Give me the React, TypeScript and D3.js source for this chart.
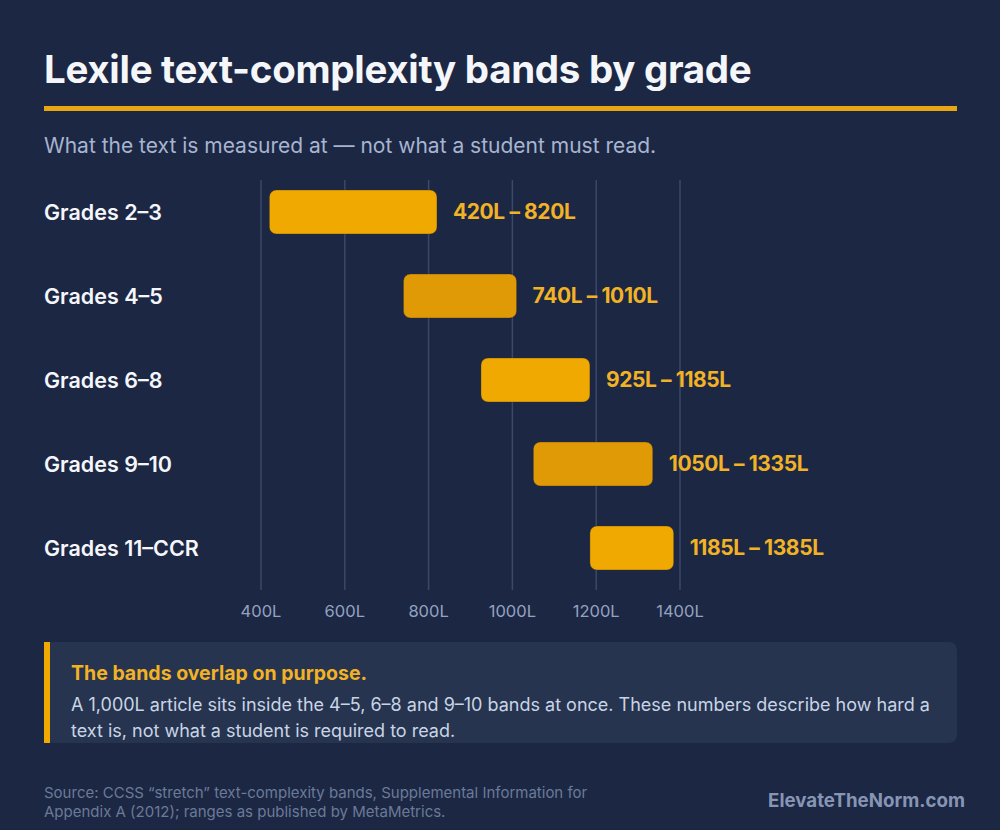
import React from "react";
import * as d3 from "d3";

const grades = ["Grades 2–3", "Grades 4–5", "Grades 6–8", "Grades 9–10", "Grades 11–CCR"];
const lowValues = [420, 740, 925, 1050, 1185];
const highValues = [820, 1010, 1185, 1335, 1385];
const ticks = [400, 600, 800, 1000, 1200, 1400];

const W = 1000;
const H = 830;
const FONT = "Inter, 'Noto Sans', sans-serif";

const BG = "#1c2744";
const GOLD = "#f0a900";
const GOLD_DARK = "#e09a05";
const LABEL_GOLD = "#f2b225";

const App: React.FC = () => {
  const x = d3.scaleLinear().domain([400, 1400]).range([261, 680]);
  const y = d3.scaleBand<string>().domain(grades).range([170, 590]).paddingInner(0.476).paddingOuter(0.238);
  const bh = y.bandwidth();

  return (
    <div style={{ position: "absolute", left: 0, top: 0 }}>
      <svg width={W} height={H} viewBox={`0 0 ${W} ${H}`} style={{ display: "block", fontFamily: FONT }}>
        <rect width={W} height={H} fill={BG} />

        {/* header */}
        <text x={44} y={83} fill="#f4f6fa" fontSize={38.5} fontWeight={700} letterSpacing={-0.3}>
          Lexile text-complexity bands by grade
        </text>
        <rect x={44} y={106} width={913} height={5} fill="#e8a612" />
        <text x={44} y={153} fill="#a7b5d0" fontSize={21}>
          What the text is measured at — not what a student must read.
        </text>

        {/* grid */}
        {ticks.map(t => (
          <g key={t}>
            <line x1={x(t)} x2={x(t)} y1={180} y2={590} stroke="#3b4868" strokeWidth={1.5} />
            <text x={x(t)} y={617} fill="#94a2c0" fontSize={16.5} textAnchor="middle">
              {t}L
            </text>
          </g>
        ))}

        {/* bars */}
        {grades.map((g, i) => {
          const yy = y(g) ?? 0;
          const x0 = x(lowValues[i]);
          const x1 = x(highValues[i]);
          return (
            <g key={g}>
              <text x={44} y={yy + bh / 2} dy="0.35em" fill="#f4f6fa" fontSize={21.5} fontWeight={600}>
                {g}
              </text>
              <rect
                x={x0}
                y={yy}
                width={x1 - x0}
                height={bh}
                rx={7}
                fill={i % 2 === 0 ? GOLD : GOLD_DARK}
                stroke="#2a2a2a"
                strokeOpacity={0.35}
                strokeWidth={1}
              />
              <text x={x1 + 16} y={yy + bh / 2} dy="0.35em" fill={LABEL_GOLD} fontSize={21} fontWeight={700} letterSpacing={-0.4}>
                {lowValues[i]}L – {highValues[i]}L
              </text>
            </g>
          );
        })}

        {/* callout */}
        <rect x={44} y={642} width={913} height={101} rx={8} fill="#26344f" />
        <rect x={44} y={642} width={6} height={101} fill={GOLD} />
        <text x={71} y={680} fill={LABEL_GOLD} fontSize={19.5} fontWeight={700}>
          The bands overlap on purpose.
        </text>
        <text x={71} y={711} fill="#c9d4e6" fontSize={18}>
          A 1,000L article sits inside the 4–5, 6–8 and 9–10 bands at once. These numbers describe how hard a
        </text>
        <text x={71} y={737} fill="#c9d4e6" fontSize={18}>
          text is, not what a student is required to read.
        </text>

        {/* footer */}
        <text x={44} y={798} fill="#6b7a98" fontSize={15}>
          Source: CCSS “stretch” text-complexity bands, Supplemental Information for
        </text>
        <text x={44} y={817} fill="#6b7a98" fontSize={15}>
          Appendix A (2012); ranges as published by MetaMetrics.
        </text>
        <text x={965} y={807} fill="#8795b5" fontSize={18.7} fontWeight={700} textAnchor="end">
          ElevateTheNorm.com
        </text>
      </svg>
    </div>
  );
};

export default App;
